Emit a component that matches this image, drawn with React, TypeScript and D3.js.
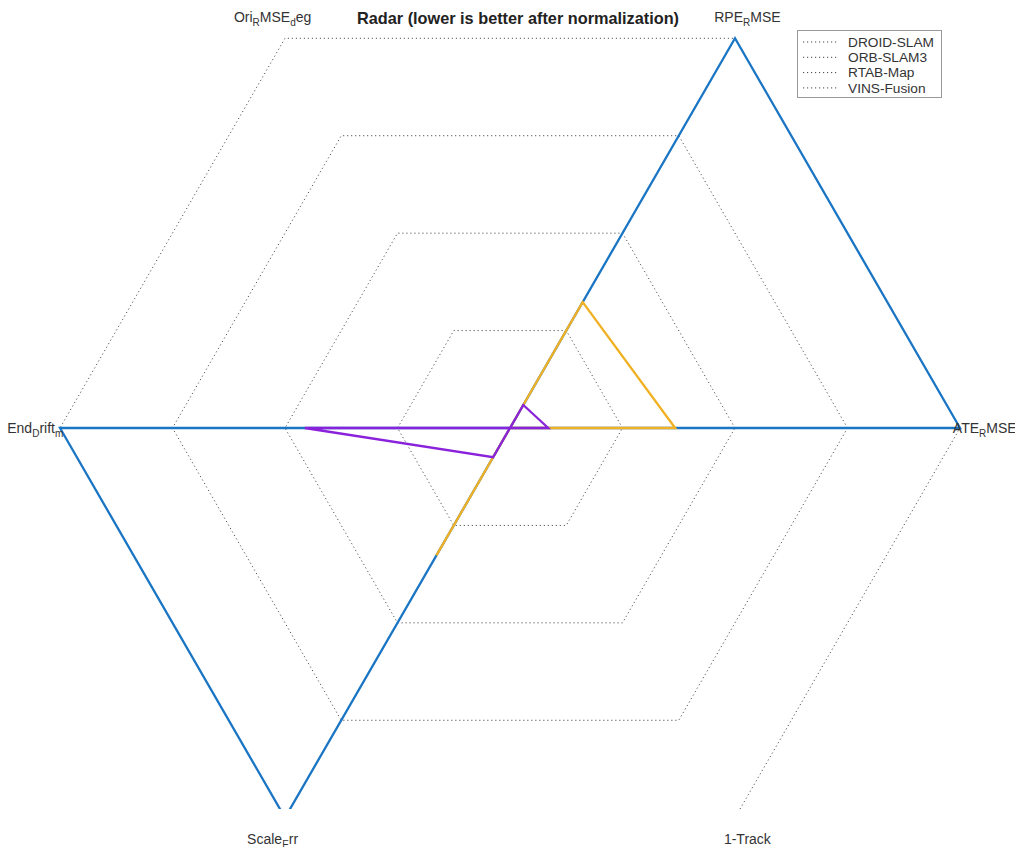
import React from "react";
import * as d3 from "d3";

const axisNames = ["ATE_RMSE", "RPE_RMSE", "Ori_RMSE_deg", "End_Drift_m", "Scale_Err", "1-Track"];
const methods = ["DROID-SLAM", "ORB-SLAM3", "RTAB-Map", "VINS-Fusion"];
const droidSlam = [1, 1, 0, 1, 1, 0];
const orbSlam3 = [0.367, 0.323, 0, 0, 0.327, 0];
const rtabMap = [0.085, 0.059, 0, 0.456, 0.075, 0];
const vinsFusion = [0, 0, 0, 0, 0, 0];
const gridLevels = [0.25, 0.5, 0.75, 1];
const title = "Radar (lower is better after normalization)";

const seriesValues = [droidSlam, orbSlam3, rtabMap, vinsFusion];
const colors = ["#1a75c4", "#f0b124", "#8a22db", "#2ca02c"];

const W = 1015;
const H = 847;
const cx = 510;
const cy = 428;
const R = 450;

const rScale = d3.scaleLinear().domain([0, 1]).range([0, R]);
const angle = d3
  .scaleLinear()
  .domain([0, axisNames.length])
  .range([0, 2 * Math.PI]);

const pt = (i: number, v: number): [number, number] => {
  const a = angle(i);
  const r = rScale(v);
  return [cx + r * Math.cos(a), cy - r * Math.sin(a)];
};

const closedLine = d3.line<[number, number]>().curve(d3.curveLinearClosed);

const SUB_SHIFT = 4;

function renderLabel(s: string) {
  // segments: underscore makes next char a subscript (mathtext-like)
  const segs: { t: string; sub: boolean }[] = [];
  let buf = "";
  for (let i = 0; i < s.length; i++) {
    const c = s[i];
    if (c === "_" && i + 1 < s.length) {
      if (buf) segs.push({ t: buf, sub: false });
      buf = "";
      segs.push({ t: s[i + 1], sub: true });
      i++;
    } else {
      buf += c;
    }
  }
  if (buf) segs.push({ t: buf, sub: false });
  let prevSub = false;
  return segs.map((sg, k) => {
    let dy = 0;
    if (sg.sub && !prevSub) dy = SUB_SHIFT;
    if (!sg.sub && prevSub) dy = -SUB_SHIFT;
    prevSub = sg.sub;
    return (
      <tspan key={k} dy={dy} fontSize={sg.sub ? 10 : 14}>
        {sg.t}
      </tspan>
    );
  });
}

export default function App() {
  const font = "'Liberation Sans', Arial, sans-serif";
  return (
    <svg width={W} height={H} style={{ position: "absolute", left: 0, top: 0, background: "#fff" }}>
      <defs>
        <clipPath id="plotClip">
          <rect x={0} y={0} width={W} height={809} />
        </clipPath>
      </defs>
      <g clipPath="url(#plotClip)">
        {gridLevels.map((lv) => (
          <path
            key={lv}
            d={closedLine(axisNames.map((_, i) => pt(i, lv))) || ""}
            fill="none"
            stroke="#555"
            strokeWidth={1}
            strokeDasharray="1.2,2.8"
          />
        ))}
        {seriesValues.map((vals, si) => (
          <path
            key={si}
            d={closedLine(vals.map((v, i) => pt(i, v))) || ""}
            fill="none"
            stroke={colors[si]}
            strokeWidth={2.3}
            strokeLinejoin="miter"
          />
        ))}
      </g>
      {axisNames.map((name, i) => {
        const [x, y] = pt(i, 1.055);
        return (
          <text
            key={name}
            x={x}
            y={y + 5}
            textAnchor="middle"
            fontFamily={font}
            fontSize={14}
            fill="#333"
          >
            {renderLabel(name)}
          </text>
        );
      })}
      <text x={518} y={24} textAnchor="middle" fontFamily={font} fontSize={16.3} fontWeight="bold" fill="#222">
        {title}
      </text>
      <g>
        <rect x={797.5} y={30.5} width={144} height={67} fill="#fff" stroke="#999" strokeWidth={1} />
        {methods.map((m, i) => {
          const y = 42 + i * 15.3;
          return (
            <g key={m}>
              <line x1={803} x2={839} y1={y} y2={y} stroke="#444" strokeWidth={1} strokeDasharray="1.2,2.8" />
              <text x={848} y={y + 4.8} fontFamily={font} fontSize={13.7} fill="#333">
                {m}
              </text>
            </g>
          );
        })}
      </g>
    </svg>
  );
}
